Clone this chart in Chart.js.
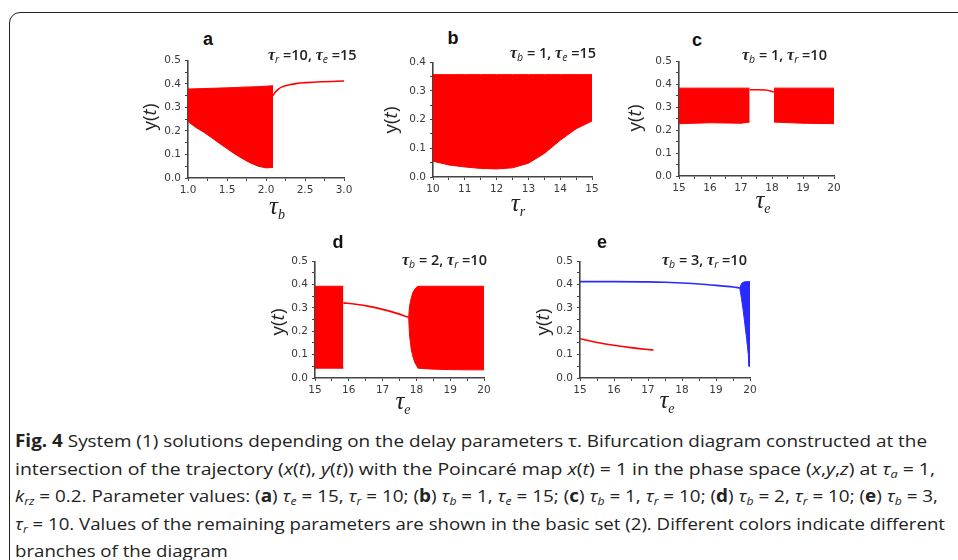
<!DOCTYPE html>
<html>
<head>
<meta charset="utf-8">
<script src="https://cdn.jsdelivr.net/npm/chart.js@4.4.1/dist/chart.umd.min.js"></script>
<style>
  body { margin: 0; background: #fff; width: 958px; height: 560px; overflow: hidden; position: relative; font-family: "Open Sans", sans-serif; }
  .frame { position: absolute; left: 9px; top: 12px; width: 1000px; height: 620px; border: 1.6px solid #222; border-radius: 11px; }
  .panel { position: absolute; }
  .lab { position: absolute; transform: translate(-50%, -50%); font: bold 18px "Liberation Sans", Arial, sans-serif; color: #111; }
  .note { position: absolute; transform: translate(0, -50%); font: 600 14.5px "Open Sans", sans-serif; color: #222; white-space: nowrap; }
  .note i, .xt i { font-family: "Liberation Serif", serif; }
  .note i { font-size: 16px; }
  .note sub { font-size: 10.5px; font-style: italic; font-weight: 400; vertical-align: -3px; }
  .yt { position: absolute; transform: translate(-50%, -50%) rotate(-90deg); font: 19px "Open Sans", sans-serif; color: #222; white-space: nowrap; line-height: 1; }
  .xt { position: absolute; transform: translate(-50%, -50%); font: 25px "Liberation Serif", serif; color: #222; white-space: nowrap; }
  .xt sub { font-size: 14px; font-style: italic; vertical-align: -5px; }
  .cap { position: absolute; left: 15px; top: 427px; font: 17px "Open Sans", sans-serif; color: #222; }
  .cap .ln { width: max-content; white-space: nowrap; height: 27.6px; line-height: 27.6px; transform-origin: 0 50%; }
  .cap sub { font-size: 11px; vertical-align: -3px; }
</style>
</head>
<body>
<div class="frame"></div>

<canvas id="cA" class="panel"></canvas>
<canvas id="cB" class="panel"></canvas>
<canvas id="cC" class="panel"></canvas>
<canvas id="cD" class="panel"></canvas>
<canvas id="cE" class="panel"></canvas>

<div class="lab" style="left:208px;top:39px">a</div>
<div class="lab" style="left:453px;top:38px">b</div>
<div class="lab" style="left:697px;top:40px">c</div>
<div class="lab" style="left:338px;top:242px">d</div>
<div class="lab" style="left:602px;top:242px">e</div>

<div class="note" style="left:268px;top:55px"><i>τ</i><sub>r</sub> =10, <i>τ</i><sub>e</sub> =15</div>
<div class="note" style="left:510px;top:53px"><i>τ</i><sub>b</sub> = 1, <i>τ</i><sub>e</sub> =15</div>
<div class="note" style="left:742px;top:55px"><i>τ</i><sub>b</sub> = 1, <i>τ</i><sub>r</sub> =10</div>
<div class="note" style="left:402px;top:260px"><i>τ</i><sub>b</sub> = 2, <i>τ</i><sub>r</sub> =10</div>
<div class="note" style="left:662px;top:260px"><i>τ</i><sub>b</sub> = 3, <i>τ</i><sub>r</sub> =10</div>

<div class="yt" style="left:149px;top:117px">y(<i>t</i>)</div>
<div class="yt" style="left:390px;top:120px">y(<i>t</i>)</div>
<div class="yt" style="left:634px;top:118px">y(<i>t</i>)</div>
<div class="yt" style="left:277px;top:322px">y(<i>t</i>)</div>
<div class="yt" style="left:542px;top:322px">y(<i>t</i>)</div>

<div class="xt" style="left:277px;top:207px"><i>τ</i><sub>b</sub></div>
<div class="xt" style="left:518px;top:204px"><i>τ</i><sub>r</sub></div>
<div class="xt" style="left:763px;top:201px"><i>τ</i><sub>e</sub></div>
<div class="xt" style="left:403px;top:402px"><i>τ</i><sub>e</sub></div>
<div class="xt" style="left:667px;top:401px"><i>τ</i><sub>e</sub></div>

<div class="cap">
  <div class="ln" data-w="912"><b>Fig. 4</b> System (1) solutions depending on the delay parameters τ. Bifurcation diagram constructed at the</div>
  <div class="ln" data-w="920">intersection of the trajectory (<i>x</i>(<i>t</i>), <i>y</i>(<i>t</i>)) with the Poincaré map <i>x</i>(<i>t</i>) = 1 in the phase space (<i>x</i>,<i>y</i>,<i>z</i>) at <i>τ<sub>a</sub></i> = 1,</div>
  <div class="ln" data-w="923"><i>k<sub>rz</sub></i> = 0.2. Parameter values: (<b>a</b>) <i>τ<sub>e</sub></i> = 15, <i>τ<sub>r</sub></i> = 10; (<b>b</b>) <i>τ<sub>b</sub></i> = 1, <i>τ<sub>e</sub></i> = 15; (<b>c</b>) <i>τ<sub>b</sub></i> = 1, <i>τ<sub>r</sub></i> = 10; (<b>d</b>) <i>τ<sub>b</sub></i> = 2, <i>τ<sub>r</sub></i> = 10; (<b>e</b>) <i>τ<sub>b</sub></i> = 3,</div>
  <div class="ln" data-w="930"><i>τ<sub>r</sub></i> = 10. Values of the remaining parameters are shown in the basic set (2). Different colors indicate different</div>
  <div class="ln">branches of the diagram</div>
</div>

<script>
// panel a: y vs tau_b
const aBandX   = [1.0, 1.1, 1.2, 1.3, 1.4, 1.5, 1.6, 1.7, 1.8, 1.9, 2.0, 2.09];
const aBandTop = [0.378, 0.379, 0.380, 0.381, 0.382, 0.383, 0.384, 0.386, 0.387, 0.388, 0.390, 0.392];
const aBandBot = [0.24, 0.215, 0.195, 0.172, 0.148, 0.125, 0.102, 0.082, 0.064, 0.05, 0.043, 0.045];
const aLineX   = [2.09, 2.12, 2.16, 2.2, 2.3, 2.4, 2.5, 2.7, 3.0];
const aLineY   = [0.35, 0.365, 0.378, 0.386, 0.396, 0.402, 0.405, 0.409, 0.412];

// panel b: y vs tau_r
const bBandX   = [10, 10.5, 11, 11.5, 12, 12.5, 13, 13.5, 14, 14.5, 15];
const bBandTop = [0.357, 0.357, 0.357, 0.357, 0.357, 0.357, 0.357, 0.357, 0.357, 0.357, 0.357];
const bBandBot = [0.055, 0.042, 0.035, 0.03, 0.028, 0.032, 0.048, 0.082, 0.128, 0.168, 0.195];

// panel c: y vs tau_e
const cLeftX   = [15, 16, 17, 17.28];
const cLeftTop = [0.383, 0.383, 0.383, 0.383];
const cLeftBot = [0.228, 0.232, 0.23, 0.235];
const cGapX    = [17.28, 17.5, 17.8, 18.06];
const cGapY    = [0.376, 0.376, 0.375, 0.366];
const cRightX   = [18.06, 19, 20];
const cRightTop = [0.383, 0.383, 0.383];
const cRightBot = [0.235, 0.23, 0.228];

// panel d: y vs tau_e
const dLeftX   = [15, 15.84];
const dLeftTop = [0.393, 0.393];
const dLeftBot = [0.042, 0.042];
const dLineX   = [15.84, 16.2, 16.6, 17.0, 17.4, 17.77];
const dLineY   = [0.322, 0.316, 0.307, 0.294, 0.278, 0.26];
const dRightX   = [17.77, 17.8, 17.85, 17.9, 17.95, 18.0, 18.05, 18.5, 19, 19.5, 20];
const dRightTop = [0.26, 0.31, 0.345, 0.368, 0.38, 0.388, 0.393, 0.393, 0.393, 0.393, 0.393];
const dRightBot = [0.26, 0.18, 0.12, 0.09, 0.068, 0.055, 0.042, 0.038, 0.036, 0.035, 0.035];

// panel e: y vs tau_e, two branches
const eBlueX   = [15, 16, 17, 17.5, 18, 18.5, 19, 19.5, 19.7];
const eBlueY   = [0.413, 0.413, 0.412, 0.41, 0.407, 0.403, 0.397, 0.39, 0.386];
const eWedgeX   = [19.7, 19.75, 19.8, 19.85, 19.9, 19.95, 19.97, 20.0];
const eWedgeTop = [0.386, 0.405, 0.41, 0.412, 0.413, 0.413, 0.413, 0.413];
const eWedgeBot = [0.386, 0.34, 0.29, 0.23, 0.17, 0.1, 0.05, 0.05];
const eRedX    = [15, 15.5, 16, 16.5, 17, 17.16];
const eRedY    = [0.168, 0.152, 0.14, 0.13, 0.122, 0.12];

const RED = '#ff0000';
const BLUE = '#2a2aff';

function pts(xs, ys) {
  return xs.map((x, i) => ({ x: x, y: ys[i] }));
}

function band(xs, top, bot, color) {
  return [
    { data: pts(xs, top), borderColor: color, borderWidth: 1, pointRadius: 0, fill: false },
    { data: pts(xs, bot), borderColor: color, borderWidth: 1, pointRadius: 0, fill: '-1', backgroundColor: color }
  ];
}

function curve(xs, ys, color) {
  return { data: pts(xs, ys), borderColor: color, borderWidth: 1.6, pointRadius: 0, fill: false, cubicInterpolationMode: 'monotone' };
}

// plot box = where the axes meet on the page
function makePanel(id, box, xr, yMax, datasets) {
  const padL = 40, padT = 10, padR = 14, axisH = 26;
  const cv = document.getElementById(id);
  cv.width = box.right - box.left + padL + padR;
  cv.height = box.bottom - box.top + padT + axisH;
  cv.style.left = (box.left - padL) + 'px';
  cv.style.top = (box.top - padT) + 'px';

  const tickFont = { family: '"DejaVu Sans", sans-serif', size: 10.5 };
  new Chart(cv, {
    type: 'line',
    data: { datasets: datasets },
    options: {
      responsive: false,
      animation: false,
      layout: { padding: { left: 0, top: padT, right: padR, bottom: 0 } },
      plugins: { legend: { display: false }, tooltip: { enabled: false } },
      scales: {
        x: {
          type: 'linear', min: xr.min, max: xr.max,
          afterFit: s => { s.height = axisH; },
          border: { color: '#444', width: 1.6 },
          grid: { drawOnChartArea: false, drawTicks: true, tickLength: 3, color: '#444' },
          ticks: {
            stepSize: xr.minor, autoSkip: false, maxRotation: 0, padding: 3,
            color: '#3a3a3a', font: tickFont,
            callback: v => Math.abs(v / xr.major - Math.round(v / xr.major)) < 1e-6 ? v.toFixed(xr.dec) : ''
          }
        },
        y: {
          min: 0, max: yMax,
          afterFit: s => { s.width = padL; },
          border: { color: '#444', width: 1.6 },
          grid: { drawOnChartArea: false, drawTicks: true, tickLength: 3, color: '#444' },
          ticks: {
            stepSize: 0.05, autoSkip: false, padding: 4,
            color: '#3a3a3a', font: tickFont,
            callback: v => Math.round(v * 100) % 10 === 0 ? v.toFixed(1) : ''
          }
        }
      }
    }
  });
}

makePanel('cA', { left: 188, top: 60, right: 344, bottom: 178 },
  { min: 1, max: 3, minor: 0.25, major: 0.5, dec: 1 }, 0.5,
  [...band(aBandX, aBandTop, aBandBot, RED), curve(aLineX, aLineY, RED)]);

makePanel('cB', { left: 433, top: 62, right: 592, bottom: 177 },
  { min: 10, max: 15, minor: 0.5, major: 1, dec: 0 }, 0.4,
  band(bBandX, bBandTop, bBandBot, RED));

makePanel('cC', { left: 679, top: 61, right: 834, bottom: 176 },
  { min: 15, max: 20, minor: 0.5, major: 1, dec: 0 }, 0.5,
  [...band(cLeftX, cLeftTop, cLeftBot, RED), curve(cGapX, cGapY, RED),
   ...band(cRightX, cRightTop, cRightBot, RED)]);

makePanel('cD', { left: 315, top: 261, right: 484, bottom: 378 },
  { min: 15, max: 20, minor: 0.5, major: 1, dec: 0 }, 0.5,
  [...band(dLeftX, dLeftTop, dLeftBot, RED), curve(dLineX, dLineY, RED),
   ...band(dRightX, dRightTop, dRightBot, RED)]);

makePanel('cE', { left: 580, top: 261, right: 750, bottom: 378 },
  { min: 15, max: 20, minor: 0.5, major: 1, dec: 0 }, 0.5,
  [curve(eBlueX, eBlueY, BLUE), ...band(eWedgeX, eWedgeTop, eWedgeBot, BLUE),
   curve(eRedX, eRedY, RED)]);

// squeeze caption lines to the widths of the printed figure
let lastScale = 1;
document.querySelectorAll('.cap .ln').forEach(el => {
  const w = el.getBoundingClientRect().width;
  if (el.dataset.w) lastScale = +el.dataset.w / w;
  el.style.transform = 'scaleX(' + lastScale + ')';
});
</script>
</body>
</html>
